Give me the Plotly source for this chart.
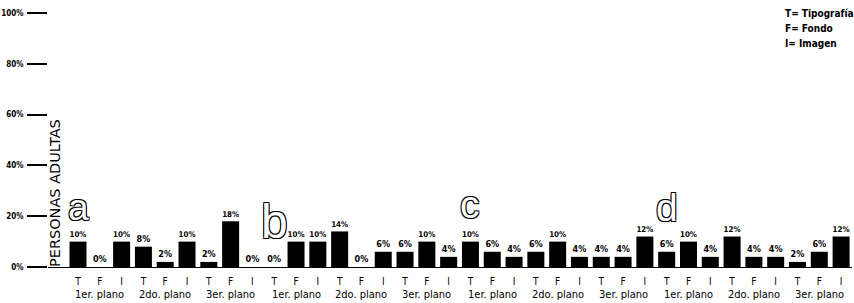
import plotly.graph_objects as go

groups = ["a", "b", "c", "d"]
planes = ["1er. plano", "2do. plano", "3er. plano"]
elements = ["T", "F", "I"]

values_a = [10, 0, 10, 8, 2, 10, 2, 18, 0]
values_b = [0, 10, 10, 14, 0, 6, 6, 10, 4]
values_c = [10, 6, 4, 6, 10, 4, 4, 4, 12]
values_d = [6, 10, 4, 12, 4, 4, 2, 6, 12]

y_ticks = [0, 20, 40, 60, 80, 100]
y_tick_labels = ["0%", "20%", "40%", "60%", "80%", "100%"]

legend_lines = ["T= Tipografía", "F= Fondo", "I= Imagen"]
y_title = "PERSONAS ADULTAS"

values = values_a + values_b + values_c + values_d
n = len(values)
xs = list(range(n))
tick_text = [elements[i % 3] for i in xs]

FONT = "Liberation Sans Narrow, DejaVu Sans Condensed, Roboto Condensed, Liberation Sans, Arial"

L, R, T, B = 48, 2, 13, 36
W, H = 854, 303
pw, ph = W - L - R, H - T - B


def px_x(p):
    return (p - L) / pw


def px_y(p):
    return 1 - (p - T) / ph


fig = go.Figure()
fig.add_trace(go.Bar(
    x=xs, y=values,
    marker=dict(color="black", line=dict(width=0)),
    width=0.78,
    text=[f"{v}%" for v in values],
    textposition="outside",
    textfont=dict(family=FONT, size=9, color="black", weight="bold"),
    cliponaxis=False,
    hoverinfo="skip",
))

annotations = []
# plane labels
for g in range(len(groups)):
    for p, name in enumerate(planes):
        center = g * 9 + p * 3 + 1
        annotations.append(dict(
            x=center, y=0, xref="x", yref="paper", yanchor="top", yshift=-19,
            text=name, showarrow=False,
            font=dict(family=FONT, size=11, color="black"),
        ))

# big outlined letters (group index, font size, pixel center y)
letter_specs = [
    (0, 37, 207),
    (9, 48, 221),
    (18, 39, 204),
    (27, 39, 207),
]
outline = "1px 1px 0 #000, -1px -1px 0 #000, 1px -1px 0 #000, -1px 1px 0 #000"
for (gi, size, cy), letter in zip(letter_specs, groups):
    annotations.append(dict(
        x=gi, xref="x", y=px_y(cy), yref="paper",
        yanchor="middle",
        text=letter, showarrow=False,
        font=dict(family="Liberation Sans, Arial", size=size, color="white",
                  shadow=outline),
    ))

# legend text
for i, line in enumerate(legend_lines):
    annotations.append(dict(
        x=px_x(783), y=px_y(13 + i * 15), xref="paper", yref="paper",
        text=line, showarrow=False, xanchor="left", yanchor="middle",
        font=dict(family=FONT, size=10, color="black", weight="bold"),
    ))

annotations.append(dict(
    x=px_x(55), y=px_y(193),
    xref="paper", yref="paper", text=y_title, textangle=-90,
    showarrow=False, xanchor="center", yanchor="middle",
    font=dict(family="DejaVu Sans, Arial", size=14.5, color="black"),
))

fig.update_layout(
    width=W, height=H,
    margin=dict(l=L, r=R, t=T, b=B, pad=0, autoexpand=False),
    plot_bgcolor="white", paper_bgcolor="white",
    showlegend=False,
    annotations=annotations,
    xaxis=dict(
        range=[-1.376, 35.5],
        tickmode="array", tickvals=xs, ticktext=tick_text,
        tickfont=dict(family=FONT, size=10, color="black"),
        showgrid=False, zeroline=False,
        showline=True, linecolor="black", linewidth=1,
        ticks="", ticklen=0, ticklabelstandoff=5,
        automargin=False,
    ),
    yaxis=dict(
        range=[0, 100],
        tickmode="array", tickvals=y_ticks, ticktext=y_tick_labels,
        tickfont=dict(family=FONT, size=8, color="black", weight="bold"),
        showgrid=False, zeroline=False, showline=False,
        ticks="outside", ticklen=20, tickwidth=1.5, tickcolor="black",
        ticklabelstandoff=2,
        automargin=False,
    ),
)

fig.write_html(
    "out.html",
    config={"displayModeBar": False},
    post_script="document.body.style.margin='0px';document.body.style.overflow='hidden';",
)
